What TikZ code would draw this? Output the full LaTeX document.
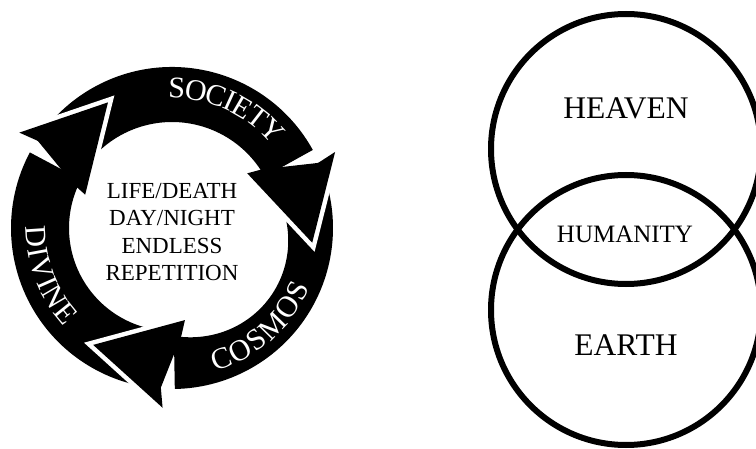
\documentclass[tikz,border=0pt]{standalone}
\usepackage{fontspec}
\setmainfont{Liberation Serif}
\usetikzlibrary{decorations.text}
\newcommand\cycfont{\fontsize{30}{30}\selectfont}
% #1 neck angle, #2 tail angle, #3 base inner radius, #4 bulge of inner edge
\newcommand\cycbody[4]{%
  \fill (#1:161) arc[start angle=#1,end angle=#2,radius=161]
    -- plot[domain=#2:#1,samples=60,variable=\t] (\t:{#3+#4*sin((\t-#1)/(#2-#1)*180)}) -- cycle;}
\newcommand\cychead[1]{%
  \draw[white,line width=9pt,line join=miter,line cap=butt] (#1+31:180) -- (#1:141) -- (#1+42:93);
  \fill (#1+30:160) -- (#1+31:180) -- (#1:141) -- (#1+42:93) -- (#1+39:108) -- cycle;}
\newcommand\cyclabel[2]{%
  \path[decorate,decoration={text along path,text align=center,text color=white,raise=-10pt,text={|\cycfont|#1}}] #2;}
\begin{document}
\begin{tikzpicture}[x=1pt,y=1pt,
  ring/.style={draw=black,line width=6pt},
  bigword/.style={font=\fontsize{31.5}{31.5}\selectfont},
  midword/.style={font=\fontsize{25}{25}\selectfont}]
\useasboundingbox (0,0) rectangle (756,448);
\fill[white] (0,0) rectangle (756,448);
\begin{scope}[shift={(172,220)}]
  % bodies
  \cycbody{29}{147}{106}{0}
  \cycbody{152}{266}{103}{0}
  \cycbody{271}{384}{108}{12}
  % heads
  \cychead{-6}
  \cychead{117}
  \cychead{236}
  % labels on the ring
  \cyclabel{SOCIETY}{(125.5:140) arc[start angle=125.5,end angle=5.5,radius=140]}
  \cyclabel{COSMOS}{(251.7:140) arc[start angle=251.7,end angle=371.7,radius=140]}
  \cyclabel{DIVINE}{(141:136) arc[start angle=141,end angle=261,radius=136]}
\end{scope}
\node[align=center,font=\fontsize{23}{27.5}\selectfont] (cyc) at (172,216) {LIFE/DEATH\\DAY/NIGHT\\ENDLESS\\REPETITION};
% Venn
\draw[ring] (626,299) circle[radius=135];
\draw[ring] (626,138) circle[radius=135];
\node[bigword] (heaven) at (626,340) {HEAVEN};
\node[midword] (humanity) at (625,214) {HUMANITY};
\node[bigword] (earth) at (626,103) {EARTH};
\end{tikzpicture}
\end{document}
